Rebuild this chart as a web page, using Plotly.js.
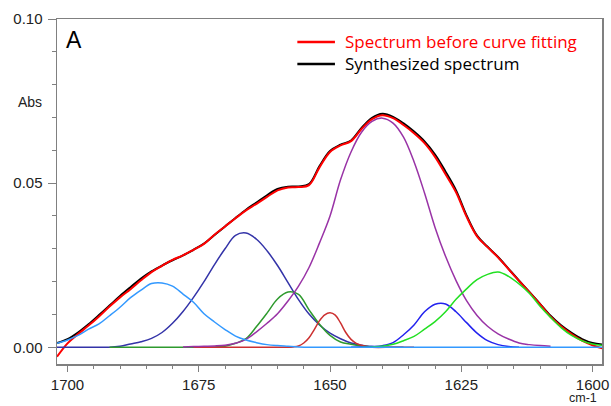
<!DOCTYPE html>
<html>
<head>
<meta charset="utf-8">
<script src="https://cdn.plot.ly/plotly-3.0.1.min.js"></script>
<style>
html,body{margin:0;padding:0;background:#ffffff;}
#chart{width:611px;height:406px;}
</style>
</head>
<body>
<div id="chart"></div>
<script>
// Wavenumber grid (cm-1)
const wavenumbers = [1702,1700,1698,1696,1694,1692,1690,1688,1686,1684,
  1682,1680,1678,1676,1674,1672,1670,1668,1666,1664,
  1662,1660,1658,1656,1654,1652,1650,1648,1646,1644,
  1642,1640,1638,1636,1634,1632,1630,1628,1626,1624,
  1622,1620,1618,1616,1614,1612,1610,1608,1606,1604,
  1602,1600,1598];

// Measured spectrum (red)
const spectrumBefore = [-0.0029,0.0012,0.0040,0.0066,0.0094,0.0124,0.0152,0.0177,0.0204,0.0229,
  0.0248,0.0266,0.0280,0.0297,0.0315,0.0343,0.0368,0.0393,0.0417,0.0437,
  0.0458,0.0478,0.0487,0.0488,0.0494,0.0548,0.0595,0.0615,0.0628,0.0665,
  0.0695,0.0707,0.0698,0.0677,0.0652,0.0622,0.0580,0.0527,0.0472,0.0398,
  0.0338,0.0305,0.0274,0.0238,0.0202,0.0167,0.0131,0.0093,0.0064,0.0040,
  0.0020,0.0006,-0.0004];

// Synthesized spectrum (black)
const synthesized = [0.0013,0.0025,0.0045,0.0070,0.0098,0.0127,0.0156,0.0183,0.0209,0.0231,
  0.0249,0.0265,0.0280,0.0297,0.0316,0.0342,0.0368,0.0394,0.0419,0.0441,
  0.0463,0.0482,0.0489,0.0490,0.0497,0.0552,0.0598,0.0617,0.0630,0.0668,
  0.0699,0.0711,0.0702,0.0682,0.0657,0.0627,0.0587,0.0535,0.0478,0.0402,
  0.0340,0.0306,0.0275,0.0239,0.0203,0.0168,0.0132,0.0096,0.0067,0.0044,
  0.0025,0.0013,0.0008];

// Fitted component bands
const bandLightBlue = [0.0012,0.0022,0.0036,0.0055,0.0071,0.0096,0.0122,0.0151,0.0174,0.0194,
  0.0196,0.0186,0.0162,0.0137,0.0102,0.0077,0.0054,0.0034,0.0022,0.0014,
  0.0008,0.0005,0.0003,0.0001,0,0,0,0,0,0,
  0,0,0,0,0,0,0,0,0,0,
  0,0,0,0,0,0,0,0,0,0,
  0,0,0];

const bandNavy = [0,0,0,0,0,0,0.0003,0.0010,0.0017,0.0027,
  0.0045,0.0073,0.0109,0.0152,0.0200,0.0252,0.0300,0.0341,0.0348,0.0329,
  0.0294,0.0249,0.0197,0.0145,0.0101,0.0068,0.0043,0.0026,0.0013,0.0006,
  0.0002,0,0,0,null,null,null,null,null,null,
  null,null,null,null,null,null,null,null,null,null,
  null,null,null];

const bandDarkGreen = [null,null,null,null,null,0,0,0,0,0,
  0,0,0,0,0,0.0001,0.0003,0.0012,0.0026,0.0063,
  0.0104,0.0147,0.0168,0.0161,0.0114,0.0070,0.0036,0.0016,0.0009,0.0004,
  0.0001,0,null,null,null,null,null,null,null,null,
  null,null,null,null,null,null,null,null,null,null,
  null,null,null];

const bandPurple = [null,null,null,null,null,null,null,null,null,null,
  null,null,0.0001,0.0002,0.0003,0.0004,0.0006,0.0012,0.0024,0.0047,
  0.0073,0.0102,0.0141,0.0186,0.0243,0.0318,0.0400,0.0510,0.0595,0.0655,
  0.0688,0.0698,0.0683,0.0640,0.0565,0.0470,0.0365,0.0277,0.0203,0.0142,
  0.0097,0.0064,0.0041,0.0025,0.0013,0.0008,0.0005,0.0003,null,null,
  null,null,null];

const bandBlue = [null,null,null,null,null,null,null,null,null,null,
  null,null,null,null,null,null,null,null,null,null,
  null,null,null,null,null,null,null,null,0,0.0001,
  0.0002,0.0005,0.0014,0.0038,0.0068,0.0108,0.0131,0.0132,0.0108,0.0075,
  0.0043,0.0020,0.0008,0.0002,0,null,null,null,null,null,
  null,null,null];

const bandBrightGreen = [null,null,null,null,null,null,null,null,null,null,
  null,null,null,null,null,null,null,null,null,null,
  null,null,null,null,null,null,null,null,null,0,
  0.0001,0.0003,0.0009,0.0020,0.0033,0.0055,0.0078,0.0108,0.0146,0.0178,
  0.0206,0.0222,0.0229,0.0216,0.0193,0.0164,0.0125,0.0091,0.0060,0.0036,
  0.0020,0.0010,0.0006];

// Narrow band near 1650 (finer grid)
const bandRedX = [1676,1670,1664,1660,1658,1657,1656,1655,1654,1653,1652,1651,1650,1649,1648,1647,1646,1645,1644,1643,1642,1638,1634];
const bandRedY = [0,0,0,0,0,0.0001,0.0004,0.0013,0.0029,0.0054,0.0081,0.0099,0.0105,0.0098,0.0074,0.0045,0.0024,0.0012,0.0006,0.0002,0,0,0];

const legendNames = ['Spectrum before curve fitting', 'Synthesized spectrum'];
const legendColors = ['#ff0000', '#000000'];
const xTickStep = 25, xMinorStep = 5, yTickStep = 0.05, yMinorStep = 0.01;

function band(x, y, color) {
  return {x: x, y: y, type: 'scatter', mode: 'lines', showlegend: false, hoverinfo: 'skip',
    line: {color: color, width: 1.5, shape: 'spline', smoothing: 1}};
}

const traces = [
  {x: wavenumbers, y: synthesized, type: 'scatter', mode: 'lines', name: legendNames[1], showlegend: false,
   line: {color: legendColors[1], width: 2, shape: 'spline', smoothing: 1}},
  {x: wavenumbers, y: spectrumBefore, type: 'scatter', mode: 'lines', name: legendNames[0], showlegend: false,
   line: {color: legendColors[0], width: 2, shape: 'spline', smoothing: 1}},
  band(wavenumbers, bandNavy, '#3333a8'),
  band(wavenumbers, bandDarkGreen, '#2e9a2e'),
  band(bandRedX, bandRedY, '#cc3030'),
  band(wavenumbers, bandPurple, '#9933a6'),
  band(wavenumbers, bandBlue, '#2222ee'),
  band(wavenumbers, bandBrightGreen, '#22e022'),
  band(wavenumbers, bandLightBlue, '#3399ff')
];

const axisGray = '#808080';
const tickFont = {family: 'Liberation Sans, Arial, sans-serif', size: 15, color: '#222222'};
const legendFont = 'Open Sans, Noto Sans, sans-serif';

// Legend key (drawn as lines + a two-line text block in paper space)
const legendY = [0.9333, 0.8696];
const legendShapes = legendY.map((y, i) => ({type: 'line', xref: 'paper', yref: 'paper',
  x0: 0.441, x1: 0.510, y0: y, y1: y, line: {color: legendColors[i], width: 2.5}}));
const legendText = {
  text: legendNames.map((n, i) => '<span style="color:' + legendColors[i] + '">' + n + '</span>').join('<br>'),
  xref: 'paper', yref: 'paper', x: 0.526, y: (legendY[0] + legendY[1]) / 2,
  xanchor: 'left', yanchor: 'middle', align: 'left', showarrow: false, borderpad: 0,
  font: {family: legendFont, size: 17, color: '#000000'}};

const layout = {
  width: 611, height: 406,
  margin: {l: 57, r: 9, t: 19, b: 42, pad: 0},
  paper_bgcolor: '#ffffff', plot_bgcolor: '#ffffff',
  showlegend: false,
  xaxis: {range: [1702.0, 1598.2], tick0: 1600, dtick: xTickStep, tickformat: 'd',
    ticks: 'outside', ticklen: 6, tickwidth: 1, tickcolor: axisGray,
    showline: true, linecolor: axisGray, linewidth: 1.5, mirror: true,
    showgrid: false, zeroline: false, tickfont: tickFont, ticklabelstandoff: 0,
    minor: {tick0: 1600, dtick: xMinorStep, ticks: 'outside', ticklen: 3, tickcolor: axisGray, showgrid: false}},
  yaxis: {range: [-0.0051, 0.1], tick0: 0, dtick: yTickStep, tickformat: '.2f',
    ticks: 'outside', ticklen: 8, tickwidth: 1, tickcolor: axisGray,
    showline: true, linecolor: axisGray, linewidth: 1.5, mirror: true,
    showgrid: false, zeroline: false, tickfont: tickFont, ticklabelstandoff: 2,
    minor: {tick0: 0, dtick: yMinorStep, ticks: 'outside', ticklen: 4, tickcolor: axisGray, showgrid: false}},
  shapes: legendShapes,
  annotations: [
    {text: 'A', xref: 'paper', yref: 'paper', x: 0.012, y: 0.94, xanchor: 'left', yanchor: 'middle',
     showarrow: false, font: {family: 'Liberation Sans, Arial, sans-serif', size: 23, color: '#000000'}},
    {text: 'Abs', xref: 'paper', yref: 'paper', x: -0.024, y: 0.759, xanchor: 'right', yanchor: 'middle',
     showarrow: false, font: {family: 'Liberation Sans, Arial, sans-serif', size: 14, color: '#222222'}},
    {text: 'cm-1', xref: 'paper', yref: 'paper', x: 0.965, y: -0.1225, xanchor: 'center', yanchor: 'bottom',
     showarrow: false, borderpad: 0, font: {family: 'Liberation Sans, Arial, sans-serif', size: 12.5, color: '#222222'}},
    legendText
  ]
};

Plotly.newPlot('chart', traces, layout, {staticPlot: true, displayModeBar: false});
</script>
</body>
</html>
